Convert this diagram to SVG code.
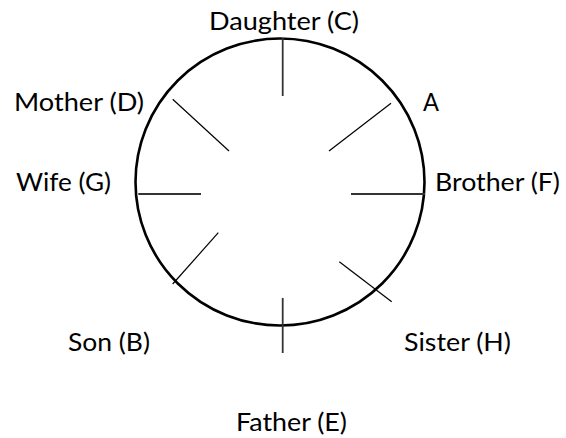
<svg xmlns="http://www.w3.org/2000/svg" width="566" height="438" viewBox="0 0 566 438">
  <style>
    .lbl { font-family: Lato, "Open Sans", "Liberation Sans", sans-serif; font-size: 25.5px; fill: #000; }
    .tick { stroke: #333; stroke-width: 1.8; fill: none; }
    .diag { stroke: #000; stroke-width: 1.2; fill: none; }
    .ring { stroke: #000; stroke-width: 2.6; fill: none; }
  </style>
  <rect width="566" height="438" fill="#fff"/>
  <g id="table">
    <ellipse class="ring" cx="280" cy="182" rx="144.5" ry="143.5"/>
  </g>
  <g id="connectors">
    <line class="tick" x1="282.7" y1="38" x2="282.7" y2="96"/>
    <line class="tick" x1="282.7" y1="298" x2="282.7" y2="353"/>
    <line class="tick" x1="138.3" y1="194" x2="201" y2="194"/>
    <line class="tick" x1="351" y1="194" x2="425" y2="194"/>
    <line class="diag" x1="391" y1="103.3" x2="329" y2="151"/>
    <line class="diag" x1="339.3" y1="261.7" x2="391.7" y2="301.7"/>
    <line class="diag" x1="218.3" y1="232.7" x2="172.7" y2="284"/>
    <line class="diag" x1="172.7" y1="99.3" x2="229" y2="151"/>
  </g>
  <g id="daughter"><text class="lbl" x="209" y="30" textLength="150" lengthAdjust="spacingAndGlyphs">Daughter (C)</text></g>
  <g id="mother"><text class="lbl" x="14" y="111" textLength="130" lengthAdjust="spacingAndGlyphs">Mother (D)</text></g>
  <g id="a"><text class="lbl" x="423" y="111" textLength="16" lengthAdjust="spacingAndGlyphs">A</text></g>
  <g id="wife"><text class="lbl" x="16" y="191" textLength="95" lengthAdjust="spacingAndGlyphs">Wife (G)</text></g>
  <g id="brother"><text class="lbl" x="435" y="191" textLength="125" lengthAdjust="spacingAndGlyphs">Brother (F)</text></g>
  <g id="son"><text class="lbl" x="68" y="351" textLength="82" lengthAdjust="spacingAndGlyphs">Son (B)</text></g>
  <g id="sister"><text class="lbl" x="404" y="351" textLength="107" lengthAdjust="spacingAndGlyphs">Sister (H)</text></g>
  <g id="father"><text class="lbl" x="236" y="431" textLength="111" lengthAdjust="spacingAndGlyphs">Father (E)</text></g>
</svg>
